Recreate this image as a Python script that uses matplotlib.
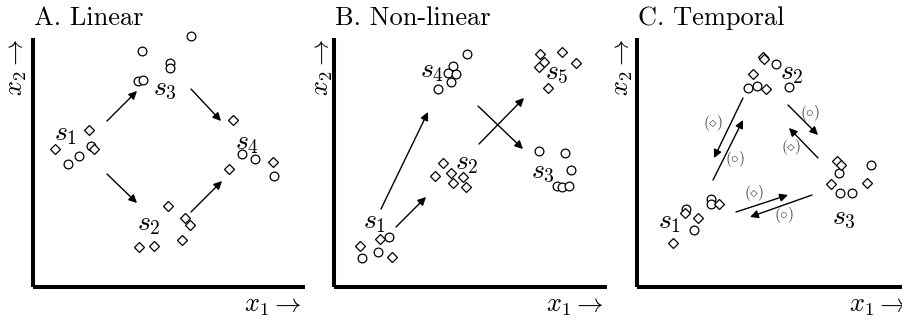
import matplotlib
matplotlib.use("Agg")
import matplotlib.pyplot as plt

plt.rcParams['mathtext.fontset'] = 'cm'

W, H = 902, 320
DPI = 100

# ---------------- Panel A: Linear ----------------
A_circ_x = [158, 109, 137, 137, 105, 110, 35, 46, 58, 209, 222, 241]
A_circ_y = [251, 236, 224, 219, 206, 207, 123, 131, 141, 133, 128, 111]
A_diam_x = [200, 56, 22, 61, 240, 196, 135, 152, 157, 149, 106, 121]
A_diam_y = [167, 157, 138, 138, 125, 118, 81, 69, 62, 47, 40, 41]
A_labels = [r'$s_1$', r'$s_3$', r'$s_4$', r'$s_2$']
A_lab_x = [33, 132, 214, 116]
A_lab_y = [154, 199, 145, 64]
A_arr_x0 = [74, 74, 158, 158]
A_arr_y0 = [166, 113, 198, 75]
A_arr_x1 = [104, 104, 188, 189]
A_arr_y1 = [196, 84, 166, 106]

# ---------------- Panel B: Non-linear ----------------
B_circ_x = [133, 119, 114, 122, 117, 104, 55, 44, 28, 205, 231, 237, 223, 228, 235]
B_circ_y = [233, 221, 214, 213, 205, 198, 50, 35, 29, 136, 134, 117, 101, 100, 101]
B_diam_x = [206, 228, 210, 205, 242, 214, 109, 101, 117, 129, 119, 132, 46, 26, 58]
B_diam_y = [233, 235, 225, 220, 224, 199, 124, 111, 114, 110, 104, 100, 48, 41, 30]
B_labels = [r'$s_4$', r'$s_5$', r'$s_2$', r'$s_3$', r'$s_1$']
B_lab_x = [98, 223, 133, 209, 41]
B_lab_y = [217, 215, 125, 116, 66]
B_arr_x0 = [47, 62, 145, 144]
B_arr_y0 = [78, 60, 143, 181]
B_arr_x1 = [94, 92, 190, 189]
B_arr_y1 = [175, 90, 189, 138]

# ---------------- Panel C: Temporal ----------------
C_circ_x = [139, 111, 120, 152, 234, 202, 203, 215, 49, 57, 74, 74]
C_circ_y = [223, 199, 201, 200, 122, 114, 94, 94, 78, 57, 88, 83]
C_diam_x = [126, 127, 116, 129, 200, 204, 194, 230, 48, 61, 82, 36]
C_diam_y = [230, 228, 213, 198, 126, 122, 103, 104, 74, 69, 83, 44]
C_labels = [r'$s_2$', r'$s_3$', r'$s_1$']
C_lab_x = [155, 207, 33]
C_lab_y = [215, 70, 66]
C_arr_x0 = [106, 76, 151, 181, 99, 175]
C_arr_y0 = [189, 107, 182, 129, 75, 92]
C_arr_x1 = [77, 106, 181, 152, 151, 113]
C_arr_y1 = [129, 167, 152, 159, 92, 70]
C_small = [r'$(\diamond)$', r'$(\circ)$', r'$(\circ)$', r'$(\diamond)$', r'$(\diamond)$', r'$(\circ)$']
C_small_x = [76, 98, 173, 154, 117, 147]
C_small_y = [164, 128, 174, 140, 94, 72]

titles = ['A. Linear', 'B. Non-linear', 'C. Temporal']

fig = plt.figure(figsize=(W / DPI, H / DPI), dpi=DPI)

# axes boxes in pixels: left, right, top, bottom
boxes = [(33, 305, 38, 287), (334, 607, 38, 287), (637, 910, 38, 287)]
ylab_px = [16, 322, 622]

panels = [
    (A_circ_x, A_circ_y, A_diam_x, A_diam_y, A_labels, A_lab_x, A_lab_y,
     A_arr_x0, A_arr_y0, A_arr_x1, A_arr_y1),
    (B_circ_x, B_circ_y, B_diam_x, B_diam_y, B_labels, B_lab_x, B_lab_y,
     B_arr_x0, B_arr_y0, B_arr_x1, B_arr_y1),
    (C_circ_x, C_circ_y, C_diam_x, C_diam_y, C_labels, C_lab_x, C_lab_y,
     C_arr_x0, C_arr_y0, C_arr_x1, C_arr_y1),
]

for i, (box, p) in enumerate(zip(boxes, panels)):
    l, r, t, b = box
    ax = fig.add_axes([l / W, (H - b) / H, (r - l) / W, (b - t) / H])
    ax.set_xlim(0, r - l)
    ax.set_ylim(0, b - t)
    for s in ['top', 'right']:
        ax.spines[s].set_visible(False)
    for s in ['left', 'bottom']:
        ax.spines[s].set_linewidth(2.9)
        ax.spines[s].set_capstyle('butt')
    ax.set_xticks([])
    ax.set_yticks([])
    ax.patch.set_alpha(0)

    cx, cy, dx, dy, labs, lx, ly, ax0, ay0, ax1, ay1 = p
    ax.plot(cx, cy, 'o', ms=6.3, mfc='white', mec='black', mew=0.9, ls='none', clip_on=False, zorder=3)
    ax.plot(dx, dy, 'D', ms=4.7, mfc='white', mec='black', mew=0.9, ls='none', clip_on=False, zorder=3)
    for s, x, y in zip(labs, lx, ly):
        ax.text(x, y, s, fontsize=20, ha='center', va='center', zorder=4)
    for x0, y0, x1, y1 in zip(ax0, ay0, ax1, ay1):
        ax.annotate('', xy=(x1, y1), xytext=(x0, y0),
                    arrowprops=dict(arrowstyle='-|>', lw=1.0, color='black',
                                    mutation_scale=12, shrinkA=0, shrinkB=0))

    # title
    ax.text(0.005, (b - 25) / (b - t), titles[i], transform=ax.transAxes,
            fontsize=19, family='cmr10', ha='left', va='baseline')
    # axis labels
    ax.text((ylab_px[i] - l) / (r - l), 1.0, r'$x_2 \rightarrow$', transform=ax.transAxes,
            rotation=90, fontsize=19, ha='center', va='top')
    ax.text(1.0 - 3 / (r - l), (b - 312) / (b - t), r'$x_1 \rightarrow$', transform=ax.transAxes,
            fontsize=19, ha='right', va='baseline')

    if i == 2:
        for s, x, y in zip(C_small, C_small_x, C_small_y):
            ax.text(x, y, s, fontsize=11, color='#444444', ha='center', va='center')

fig.savefig('out.png', dpi=DPI)
